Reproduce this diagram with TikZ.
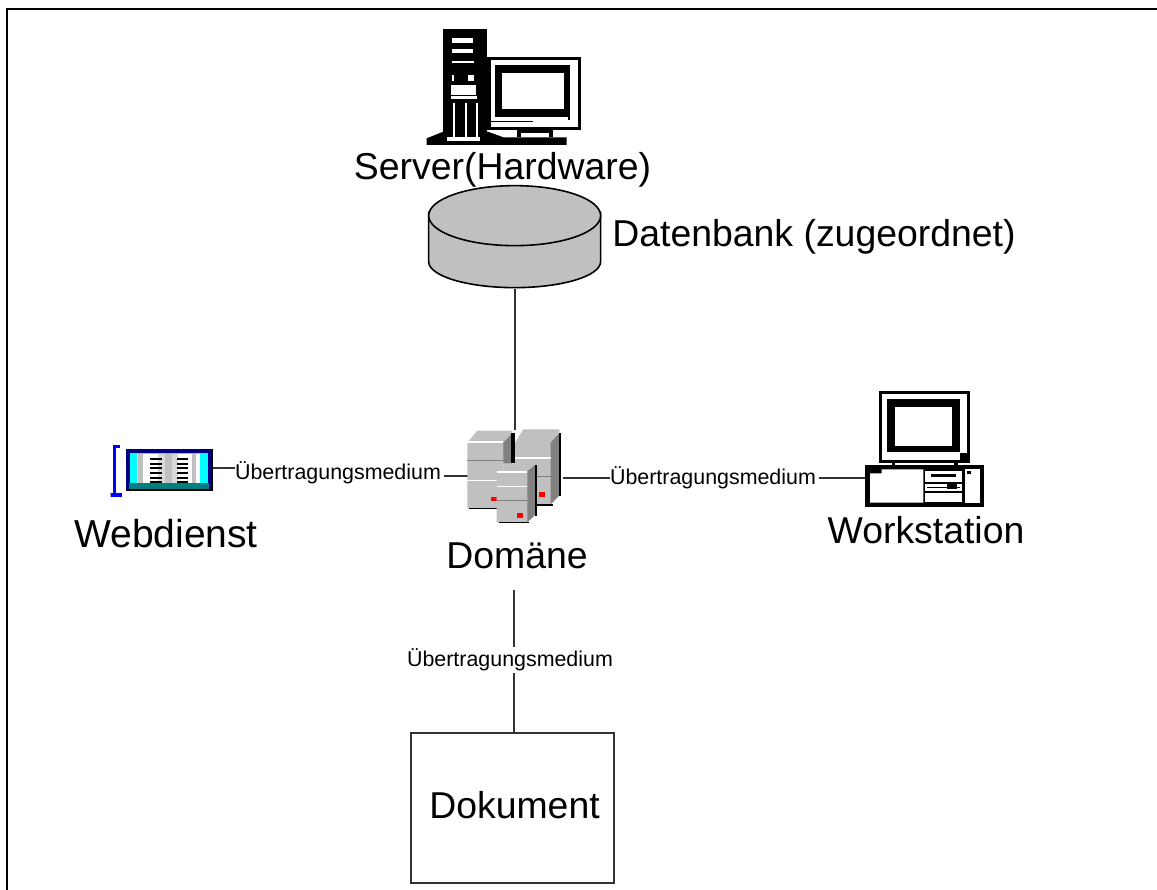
\documentclass[tikz,border=0pt]{standalone}
\usepackage{fontspec}
\setmainfont{Liberation Sans}
\definecolor{srv}{RGB}{192,192,192}
\definecolor{srvd}{RGB}{128,128,128}
\definecolor{teal2}{RGB}{0,128,128}
\definecolor{navy2}{RGB}{0,0,128}
\definecolor{aqua2}{RGB}{0,255,255}
\definecolor{boxline}{RGB}{50,50,50}
\tikzset{
  big/.style={font=\fontsize{37.4}{42}\selectfont,inner sep=0pt},
  conlabel/.style={font=\fontsize{21.4}{24}\selectfont,inner sep=0pt},
  conn/.style={draw=boxline,line width=1.6pt},
  wl/.style={draw=white,line width=1.4pt},
  gl/.style={draw=srvd,line width=1.4pt},
  kl/.style={draw=black,line width=1.6pt},
}
\begin{document}
\begin{tikzpicture}[x=1pt,y=-1pt]
\useasboundingbox (0,0) rectangle (1157,890);
\fill[white] (0,0) rectangle (1157,890);
% frame
\draw[black,line width=2.2pt] (7,890) -- (7,9) -- (1157,9);
% --- named anchors for icons
\node[minimum width=172pt,minimum height=102pt,inner sep=0pt] (db) at (514,238) {};
\node[minimum width=95pt,minimum height=100pt,inner sep=0pt] (dom) at (515.5,480) {};
\node[minimum width=102pt,minimum height=40pt,inner sep=0pt] (web) at (161,469) {};
\node[minimum width=118pt,minimum height=42pt,inner sep=0pt] (ws) at (925,487) {};
\node[draw=boxline,line width=1.6pt,minimum width=203pt,minimum height=150pt,inner sep=0pt] (doc) at (512.5,808) {};
% connectors
\coordinate (domb) at (514,590);
\node[conlabel] (l1) at (338,473) {Übertragungsmedium};
\node[conlabel] (l2) at (713,478) {Übertragungsmedium};
\node[conlabel] (l3) at (510,660) {Übertragungsmedium};
\draw[conn] (db.south -| 515,0) -- (dom.north -| 515,0);
\draw[conn] (web.east |- 0,468) -- (l1.west |- 0,468);
\draw[conn,shorten <=3pt] (l1.east |- 0,476) -- (dom.west |- 0,476);
\draw[conn] (dom.east |- 0,478) -- (l2.west |- 0,478);
\draw[conn,shorten <=3pt] (l2.east |- 0,478) -- (ws.west |- 0,478);
\draw[conn,shorten >=2pt] (domb) -- (l3.north -| domb);
\draw[conn,shorten <=2pt] (l3.south -| domb) -- (doc.north -| domb);
% --- Server icon
\begin{scope}[shift={(400,10)},x=0.3333pt,y=-0.3333pt]
 \fill[black] (128,57) rectangle (260,385);
 \fill[black] (80,385) -- (130,365) -- (265,365) -- (310,382) -- (500,382) -- (500,405) -- (80,405) -- cycle;
 \fill[black] (262,140) rectangle (544,360);
 \fill[white] (272,150) rectangle (534,350);
 \fill[black] (285,165) rectangle (510,320);
 \fill[white] (307,188) rectangle (492,298);
 \fill[black] (272,333) rectangle (400,337);
 \fill[black] (505,175) rectangle (510,330);
 \fill[black] (350,360) rectangle (460,382);
 \foreach \a/\b/\c/\d in {155/85/218/100, 155/118/218/128, 155/152/222/160, 155/195/163/212, 205/195/222/212, 152/225/228/255, 152/258/232/268, 140/380/240/392, 362/368/448/380}
   \fill[white] (\a,\b) rectangle (\c,\d);
 \foreach \a in {160,195,228}
   \fill[white] (\a,278) rectangle (\a+5,380);
 \fill[white] (265,365) -- (350,365) -- (350,380) -- (310,380) -- cycle;
\end{scope}
% --- Database
\begin{scope}[shift={(400,10)},x=0.3333pt,y=-0.3333pt]
 \filldraw[fill=srv,draw=black,line width=1.6pt] (86,605) -- (86,755) arc[start angle=180,end angle=0,x radius=258,y radius=78] -- (602,605);
 \filldraw[fill=srv,draw=black,line width=1.6pt] (344,617) ellipse[x radius=258,y radius=90];
\end{scope}
% --- Domain icon
\begin{scope}[shift={(440,410)},x=0.3333pt,y=-0.3333pt]
 % right tower
 \fill[srv] (225,98) -- (250,58) -- (358,58) -- (358,258) -- (332,285) -- (190,285) -- (190,160) -- (225,160) -- cycle;
 \fill[srvd] (332,98) -- (358,70) -- (358,255) -- (332,282) -- cycle;
 \fill[black] (358,70) rectangle (364,258);
 \fill[black] (290,282) rectangle (338,287);
 \draw[wl] (225,144) -- (332,144);
 \draw[gl] (225,200) -- (332,200);
 \fill[red] (297,245) rectangle (315,262);
 % left tower
 \fill[srv] (82,98) -- (112,62) -- (215,62) -- (215,160) -- (190,160) -- (190,295) -- (82,295) -- cycle;
 \fill[srvd] (190,98) -- (215,72) -- (215,160) -- (190,160) -- cycle;
 \fill[black] (212,70) rectangle (225,160);
 \draw[wl] (82,96) -- (190,96);
 \draw[gl] (82,152) -- (190,152);
 \draw[wl] (82,212) -- (172,212);
 \draw[kl] (86,295) -- (172,295);
 \fill[red] (152,262) rectangle (170,274);
 % front tower
 \fill[srv] (170,184) -- (262,184) -- (285,165) -- (285,315) -- (262,337) -- (170,337) -- cycle;
 \fill[srvd] (262,184) -- (285,165) -- (285,315) -- (262,337) -- cycle;
 \fill[black] (284,165) rectangle (290,318);
 \draw[wl] (170,186) -- (260,186);
 \draw[wl] (170,229) -- (260,229);
 \draw[gl] (170,271) -- (260,271);
 \draw[kl] (176,338) -- (266,338);
 \fill[red] (230,310) rectangle (248,323);
\end{scope}
% --- Workstation icon
\begin{scope}[shift={(850,380)},x=0.3333pt,y=-0.3333pt]
 \fill[black] (88,34) rectangle (360,250);
 \fill[white] (96,42) rectangle (352,240);
 \fill[black] (112,58) rectangle (330,215);
 \fill[black] (330,220) rectangle (352,240);
 \fill[white] (136,82) rectangle (306,198);
 \fill[black] (125,248) rectangle (136,258);
 \fill[black] (312,248) rectangle (324,258);
 \fill[black] (46,256) rectangle (402,382);
 \fill[white] (60,280) -- (95,280) -- (95,268) -- (220,268) -- (220,368) -- (60,368) -- cycle;
 \fill[white] (226,272) rectangle (336,306);
 \fill[black] (244,282) rectangle (318,292);
 \fill[white] (226,312) rectangle (336,334);
 \fill[black] (232,320) rectangle (330,324);
 \fill[black] (290,310) rectangle (320,328);
 \fill[white] (226,340) rectangle (336,366);
 \fill[white] (344,268) rectangle (390,370);
 \fill[black] (350,272) rectangle (362,282);
\end{scope}
% --- Webdienst icon
\begin{scope}[shift={(90,430)},x=0.3333pt,y=-0.3333pt]
 \draw[blue,line width=3.2pt] (90,49) -- (74,49) -- (74,195) -- (62,195) -- (95,195);
 \fill[navy2] (108,58) rectangle (368,184);
 \fill[black] (362,58) rectangle (368,184);
 \fill[black] (108,178) rectangle (368,184);
 \fill[aqua2] (120,68) rectangle (355,160);
 \fill[teal2] (118,160) rectangle (358,178);
 \fill[white] (140,72) rectangle (330,160);
 \fill[srv] (145,72) rectangle (160,160);
 \fill[srv] (305,72) rectangle (318,160);
 \fill[srv!60] (205,72) rectangle (265,160);
 \fill[srv] (225,72) rectangle (245,160);
 \foreach \y in {84,98,112,126,140,152} {
   \fill[black] (180,\y) rectangle (215,\y+6);
   \fill[black] (260,\y) rectangle (295,\y+6);
 }
\end{scope}
% texts
\node[big] (tdoc) at (514.5,805) {Dokument};
\node[big] (tsrv) at (502.5,170) {Server(Hardware)};
\node[big] (tdb) at (814,237) {Datenbank (zugeordnet)};
\node[big,font=\fontsize{39}{42}\selectfont] (tweb) at (166,534) {Webdienst};
\node[big] (tdom) at (517,556) {Domäne};
\node[big] (tws) at (926,530) {Workstation};
\end{tikzpicture}
\end{document}
